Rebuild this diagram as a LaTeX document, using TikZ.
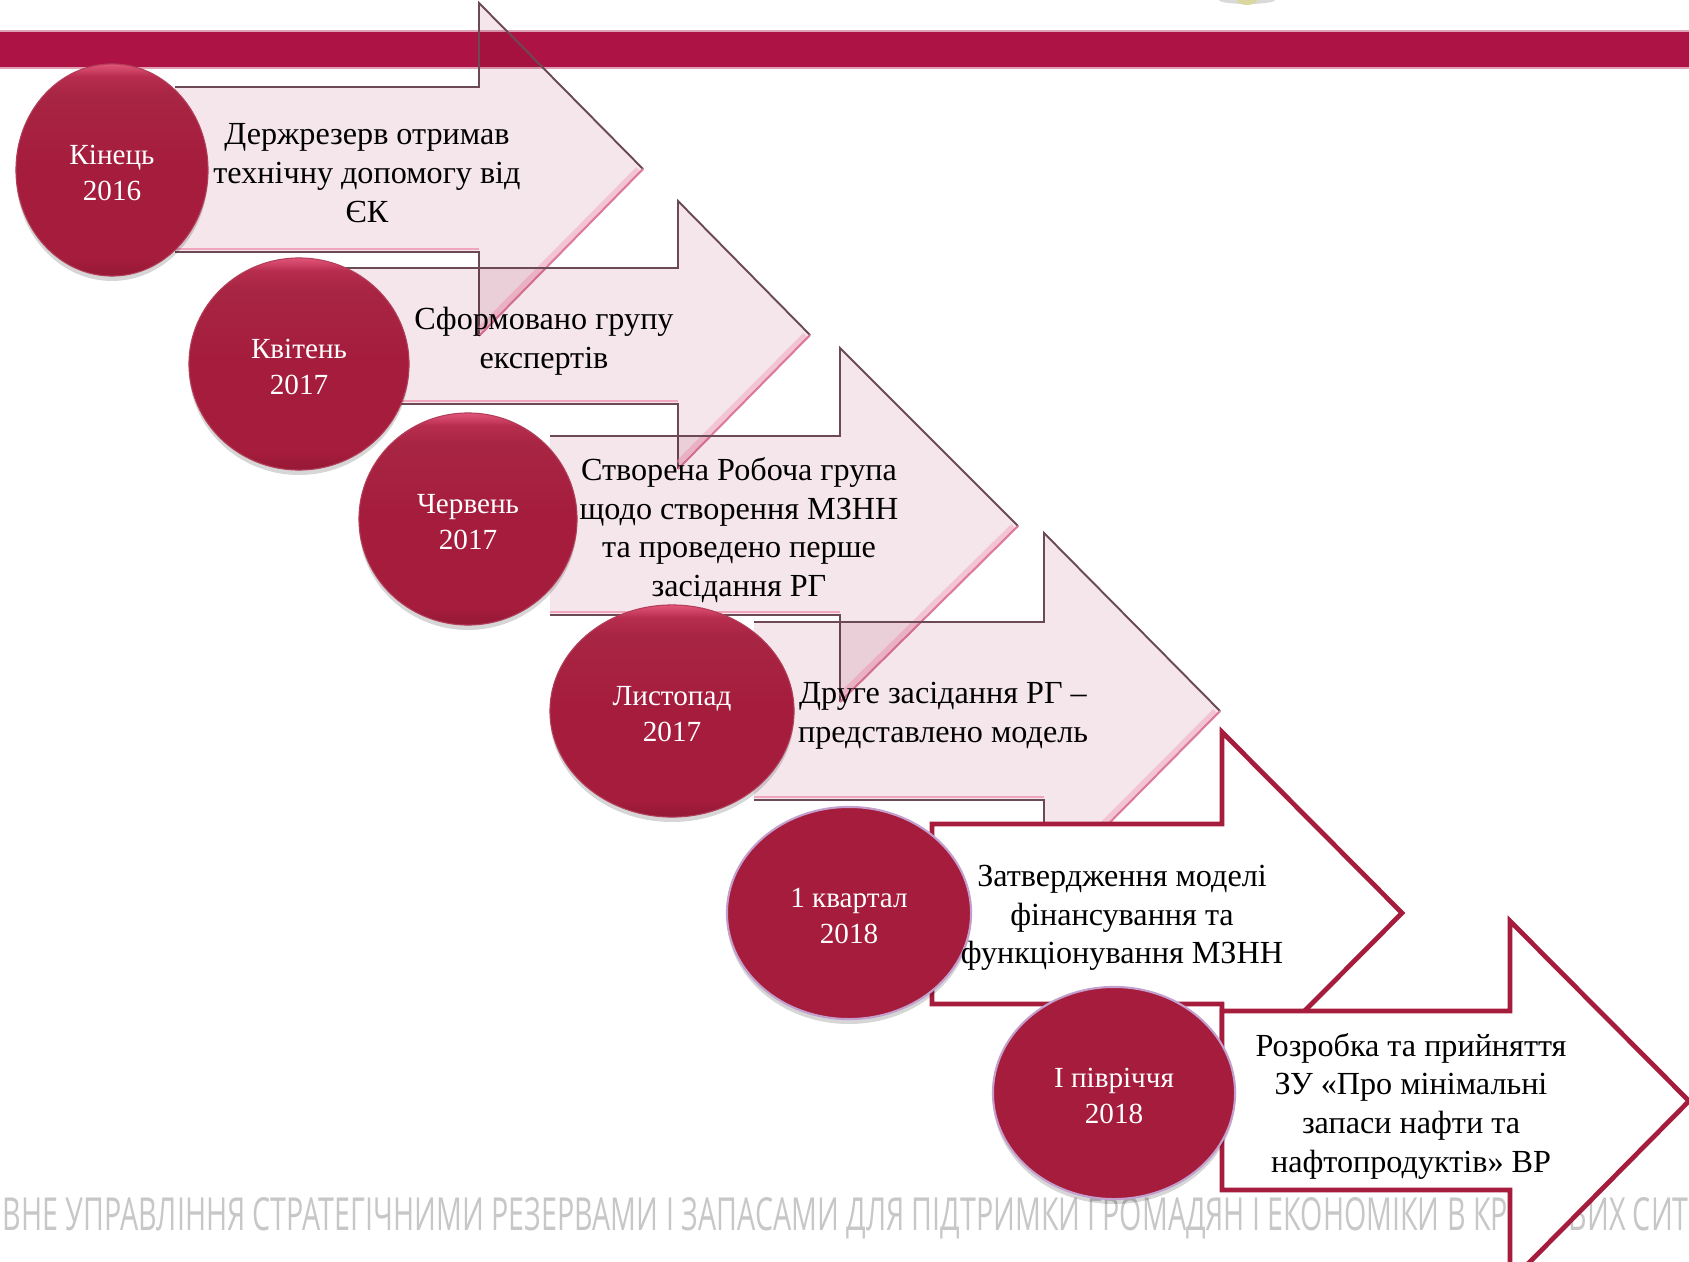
\documentclass[tikz,border=0pt]{standalone}
\usepackage{fontspec}
\setmainfont{Liberation Serif}
\newfontfamily\markfont{Open Sans}
\usepackage{xcolor}
\usepackage{tikz}
\usetikzlibrary{shapes.geometric,shadows}
\definecolor{barred}{HTML}{AD1445}
\definecolor{beadred}{HTML}{A51C3C}
\definecolor{beadtop}{HTML}{E2557A}
\definecolor{paleband}{HTML}{F5E6EB}
\definecolor{edgedark}{HTML}{6B4A55}
\definecolor{edgepink}{HTML}{F2A6BE}
\pgfdeclareverticalshading{beadshade}{100bp}{color(0bp)=(beadred); color(26bp)=(beadred!92!black); color(29bp)=(beadred); color(50bp)=(beadred); color(68bp)=(beadred!96!white); color(72bp)=(beadred!70!beadtop); color(75bp)=(beadtop); color(100bp)=(beadtop)}
\newcommand{\beadlines}[2]{\rule{0pt}{7.2pt}#1\\#2}
\tikzset{
  bead/.style={ellipse,inner sep=0pt,minimum height=2.12cm,align=center,text=white,
    font=\fontsize{8.3}{10}\selectfont,drop shadow={shadow xshift=0pt,shadow yshift=-1.4pt,opacity=.16,fill=black}},
  softbead/.style={bead,shading=beadshade,draw=beadred!85!white,line width=.3pt},
  flatbead/.style={bead,fill=beadred,draw=beadred!30!white!85!blue,line width=.6pt},
  bandtext/.style={align=center,inner sep=0pt,font=\fontsize{9.15}{11}\selectfont}
}
\begin{document}
\begin{tikzpicture}[x=0.01cm,y=-0.01cm]
            \useasboundingbox (0,0) rectangle (1689,1261);
            \clip (0,0) rectangle (1689,1261);
            \fill[white] (0,0) rectangle (1689,1261);

            \fill[black!15] (1247,0) ellipse (28 and 4);
            \fill[yellow!45!gray!60] (1247,0) ellipse (10 and 5);

            \fill[barred] (0,31) rectangle (1689,68);
            \draw[barred!40!white,line width=.3pt] (0,31) -- (1689,31) (0,68) -- (1689,68);

            \foreach \tl/\st/\sb/\bk/\ht/\hb/\tx/\ty in {175/87/252/479/3/336/643/169, 345/268/404/678/201/469/810/335, 550/436/615/840/348/702/1018/526, 754/622/800/1044/533/889/1220/711}{
              \fill[paleband,blend mode=multiply] (\tl,\st) -- (\bk,\st) -- (\bk,\ht) -- (\tx,\ty) -- (\bk,\hb) -- (\bk,\sb) -- (\tl,\sb) -- cycle;
              \draw[edgedark,line width=.55pt,line join=miter] (\tl,\st) -- (\bk,\st) -- (\bk,\ht) -- (\tx,\ty);
              \draw[edgedark,line width=.4pt] (\tl,\sb) -- (\bk,\sb) -- (\bk,\hb);
              \draw[edgepink,line width=.8pt] (\tl,\sb-3) -- (\bk,\sb-3);
              \draw[edgepink,opacity=.5,line width=1.5pt] (\tx-5,\ty) -- (\bk,\hb-6);
              \draw[edgepink!70!barred,line width=.6pt] (\tx,\ty) -- (\bk,\hb);
            }

            \node[anchor=base west,inner sep=0pt] (markline) at (2,1230) {\textcolor{black!22}{\resizebox{16.85cm}{0.33cm}{\markfont ВНЕ УПРАВЛІННЯ СТРАТЕГІЧНИМИ РЕЗЕРВАМИ І ЗАПАСАМИ ДЛЯ ПІДТРИМКИ ГРОМАДЯН І ЕКОНОМІКИ В КРИЗОВИХ СИТ}}};

            \foreach \tl/\st/\sb/\bk/\ht/\hb/\tx/\ty in {932/824/1004/1222/732/1094/1402/913, 1222/1011/1190/1510/921/1282/1689/1101}{
              \draw[beadred,fill=white,line width=1.35pt,line join=miter] (\tl,\st) -- (\bk,\st) -- (\bk,\ht) -- (\tx,\ty) -- (\bk,\hb) -- (\bk,\sb) -- (\tl,\sb) -- cycle;
            }

            \node[softbead,minimum width=1.92cm] (kinets) at (112,170) {\beadlines{Кінець}{2016}};
            \node[softbead,minimum width=2.2cm] (kviten) at (299,364) {\beadlines{Квітень}{2017}};
            \node[softbead,minimum width=2.18cm] (cherven) at (468,519) {\beadlines{Червень}{2017}};
            \node[softbead,minimum width=2.44cm] (lystopad) at (672,711) {\beadlines{Листопад}{2017}};
            \node[flatbead,minimum width=2.44cm] (kvartal) at (849,913) {\beadlines{1 квартал}{2018}};
            \node[flatbead,minimum width=2.42cm] (pivrichchia) at (1114,1093) {\beadlines{І півріччя}{2018}};

            \node[bandtext] (band1) at (367,173) {Держрезерв отримав\\технічну допомогу від\\ЄК};
            \node[bandtext] (band2) at (544,341) {Сформовано групу\\експертів};
            \node[bandtext] (band3) at (739,530) {Створена Робоча група\\щодо створення МЗНН\\та проведено перше\\засідання РГ};
            \node[bandtext] (band4) at (943,716) {Друге засідання РГ --\\представлено модель};
            \node[bandtext] (band5) at (1122,918) {Затвердження моделі\\фінансування та\\функціонування МЗНН};
            \node[bandtext] (band6) at (1411,1106) {Розробка та прийняття\\ЗУ «Про мінімальні\\запаси нафти та\\нафтопродуктів» ВР};
          \end{tikzpicture}
\end{document}
